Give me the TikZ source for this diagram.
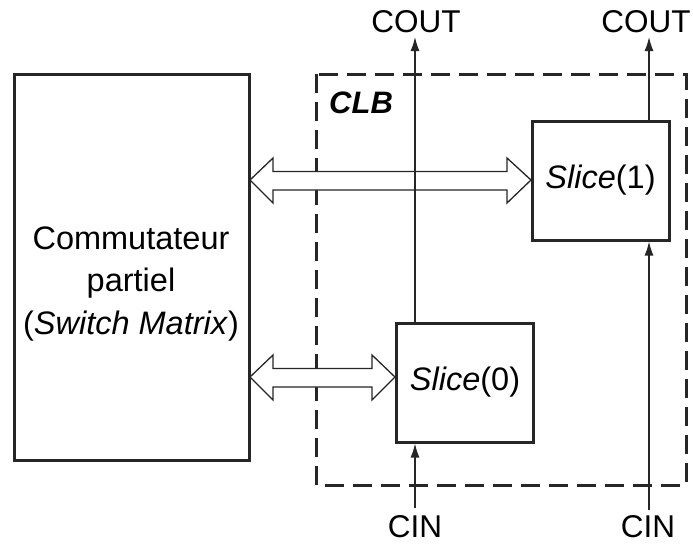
\documentclass[tikz,border=0pt]{standalone}
\usepackage{fontspec}
\setmainfont{Liberation Sans}
\usetikzlibrary{arrows.meta}
\begin{document}
\begin{tikzpicture}[x=1pt,y=-1pt,
  box/.style={draw=black!85, line width=3pt},
  wire/.style={draw=black!85, line width=1.4pt},
  arr/.style={wire,-{Latex[length=14pt,width=9pt]}},
  dbl/.style={draw=black!85, line width=1.3pt, fill=white, line join=miter},
  lbl/.style={font=\fontsize{31.5}{34}\selectfont, inner sep=0pt},
  slbl/.style={font=\fontsize{32.5}{38}\selectfont},
  txt/.style={font=\fontsize{32.5}{42.5}\selectfont, inner sep=0pt, align=center}]
\useasboundingbox (0,0) rectangle (693,547);
% CLB
\draw[line width=3pt, draw=black!85, dash pattern=on 19pt off 9pt] (316,74) rectangle (686,485);
\node[inner sep=0pt, font=\fontsize{31}{34}\selectfont\bfseries\itshape, anchor=west] (clb) at (329,103) {CLB};
% switch matrix
\draw[box] (14,74) rectangle (249,460);
\node[txt] (sm) at (131,284) {Commutateur\\partiel\\(\textit{Switch Matrix})};
% slices
\node[box, minimum width=137pt, minimum height=119pt, inner sep=0pt, slbl] (s1) at (600.5,180.5) {\textit{Slice}(1)};
\node[box, minimum width=137pt, minimum height=119pt, inner sep=0pt, slbl] (s0) at (465,382.5) {\textit{Slice}(0)};
% double arrows
\draw[dbl] (250,180) -- (273,158) -- (273,171.5) -- (507,171.5) -- (507,158) -- (531,180) -- (507,203) -- (507,190) -- (273,190) -- (273,203) -- cycle;
\draw[dbl] (250,377) -- (273,355) -- (273,368.5) -- (372,368.5) -- (372,355) -- (395,377) -- (372,400) -- (372,387) -- (273,387) -- (273,400) -- cycle;
% labels
\node[lbl] (cout0) at (416,22) {COUT};
\node[lbl] (cout1) at (646,22) {COUT};
\node[lbl] (cin0) at (415,527) {CIN};
\node[lbl] (cin1) at (648,527) {CIN};
\coordinate (co0) at (415,37);
\coordinate (co1) at (649,37);
\coordinate (ci0) at (415,508);
\coordinate (ci1) at (649,510);
% wires
\draw[arr] (s0.north -| co0) -- (co0);
\draw[arr] (s1.north -| co1) -- (co1);
\draw[arr] (ci0) -- (s0.south -| ci0);
\draw[arr] (ci1) -- (s1.south -| ci1);
\end{tikzpicture}
\end{document}
